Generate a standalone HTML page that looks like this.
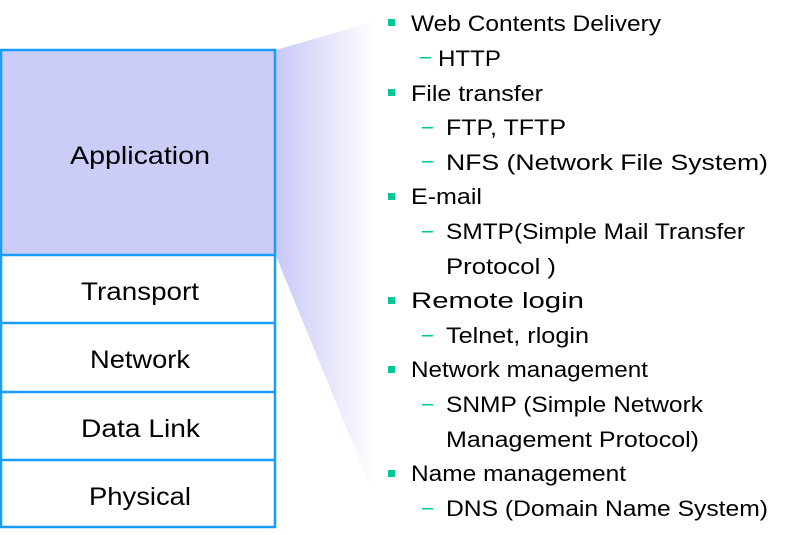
<!DOCTYPE html>
<html><head><meta charset="utf-8"><style>
html,body{margin:0;padding:0;background:#fff;}
svg{display:block;}
text{font-family:"Liberation Sans",sans-serif;fill:#000;}
</style></head><body>
<svg width="789" height="535" viewBox="0 0 789 535" xmlns="http://www.w3.org/2000/svg">
<defs>
<linearGradient id="g" x1="276" y1="0" x2="375" y2="0" gradientUnits="userSpaceOnUse">
<stop offset="0" stop-color="#c8c8f8"/>
<stop offset="1" stop-color="#ffffff"/>
</linearGradient>
</defs>
<polygon points="276,50 372,22 378,505 276,256" fill="url(#g)"/>
<rect x="1" y="50" width="274" height="205" fill="#ccccf8"/>
<g stroke="#1a9cff" stroke-width="2.5" fill="none">
<rect x="1" y="50" width="274" height="477"/>
<line x1="1" y1="255" x2="275" y2="255"/>
<line x1="1" y1="323" x2="275" y2="323"/>
<line x1="1" y1="392" x2="275" y2="392"/>
<line x1="1" y1="460" x2="275" y2="460"/>
</g>
<g font-size="25">
<text x="70" y="164" textLength="140" lengthAdjust="spacingAndGlyphs">Application</text>
<text x="81" y="300" textLength="118" lengthAdjust="spacingAndGlyphs">Transport</text>
<text x="90" y="368" textLength="100" lengthAdjust="spacingAndGlyphs">Network</text>
<text x="81" y="437" textLength="119" lengthAdjust="spacingAndGlyphs">Data Link</text>
<text x="89" y="505" textLength="102" lengthAdjust="spacingAndGlyphs">Physical</text>
</g>
<g fill="#00c896">
<rect x="388" y="19" width="7" height="7"/>
<rect x="388" y="89" width="7" height="7"/>
<rect x="388" y="193" width="7" height="7"/>
<rect x="388" y="297" width="7" height="7"/>
<rect x="388" y="366" width="7" height="7"/>
<rect x="388" y="470" width="7" height="7"/>
<rect x="420" y="57" width="11" height="1.5"/>
<rect x="422" y="127" width="11" height="1.5"/>
<rect x="422" y="161" width="11" height="1.5"/>
<rect x="422" y="231" width="11" height="1.5"/>
<rect x="422" y="335" width="11" height="1.5"/>
<rect x="422" y="404" width="11" height="1.5"/>
<rect x="422" y="508" width="11" height="1.5"/>
</g>
<g font-size="22">
<text x="411" y="31" textLength="250" lengthAdjust="spacingAndGlyphs">Web Contents Delivery</text>
<text x="438" y="66" textLength="63" lengthAdjust="spacingAndGlyphs">HTTP</text>
<text x="411" y="101" textLength="132" lengthAdjust="spacingAndGlyphs">File transfer</text>
<text x="446" y="135" textLength="120" lengthAdjust="spacingAndGlyphs">FTP, TFTP</text>
<text x="446" y="170" textLength="322" lengthAdjust="spacingAndGlyphs">NFS (Network File System)</text>
<text x="411" y="204" textLength="71" lengthAdjust="spacingAndGlyphs">E-mail</text>
<text x="446" y="239" textLength="299" lengthAdjust="spacingAndGlyphs">SMTP(Simple Mail Transfer</text>
<text x="446" y="274" textLength="110" lengthAdjust="spacingAndGlyphs">Protocol )</text>
<text x="411" y="308" textLength="173" lengthAdjust="spacingAndGlyphs">Remote login</text>
<text x="446" y="343" textLength="143" lengthAdjust="spacingAndGlyphs">Telnet, rlogin</text>
<text x="411" y="377" textLength="237" lengthAdjust="spacingAndGlyphs">Network management</text>
<text x="446" y="412" textLength="257" lengthAdjust="spacingAndGlyphs">SNMP (Simple Network</text>
<text x="446" y="447" textLength="253" lengthAdjust="spacingAndGlyphs">Management Protocol)</text>
<text x="411" y="481" textLength="215" lengthAdjust="spacingAndGlyphs">Name management</text>
<text x="446" y="516" textLength="322" lengthAdjust="spacingAndGlyphs">DNS (Domain Name System)</text>
</g>
</svg>
</body></html>
